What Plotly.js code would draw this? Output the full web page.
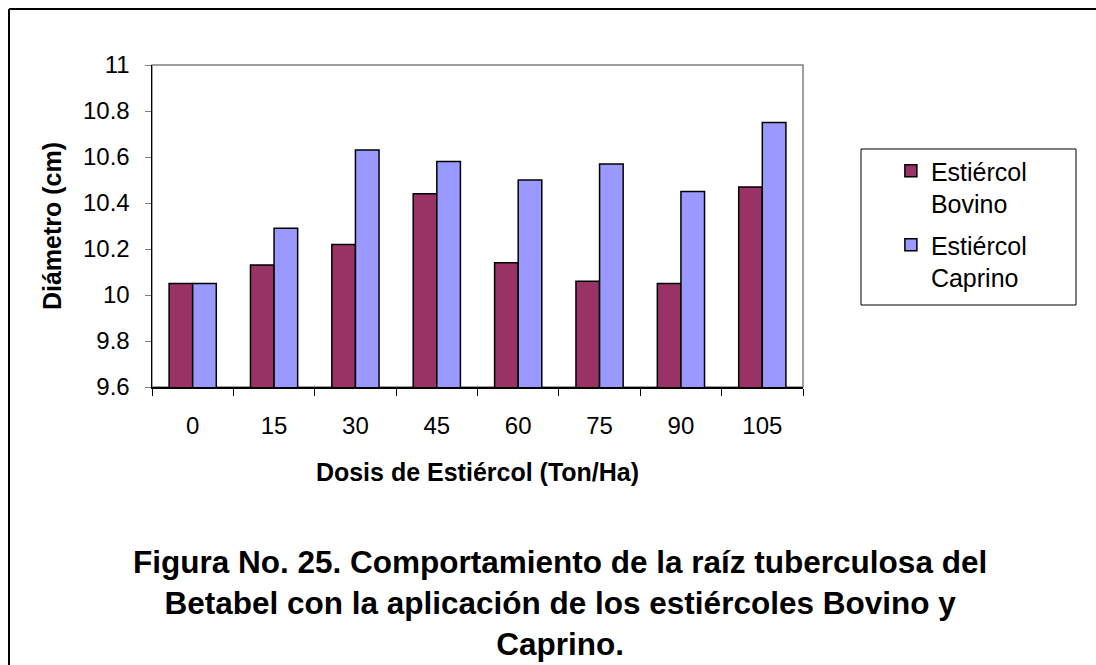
<!DOCTYPE html>
<html>
<head>
<meta charset="utf-8">
<script src="https://cdn.plot.ly/plotly-3.0.1.min.js"></script>
<style>
  html, body { margin: 0; padding: 0; background: #ffffff; }
  #chart { width: 1096px; height: 665px; }
</style>
</head>
<body>
<div id="chart"></div>
<script>
// Data
const categories = ["0", "15", "30", "45", "60", "75", "90", "105"];
const bovino = [10.05, 10.13, 10.22, 10.44, 10.14, 10.06, 10.05, 10.47];
const caprino = [10.05, 10.29, 10.63, 10.58, 10.50, 10.57, 10.45, 10.75];
const seriesNames = ["Estiércol<br>Bovino", "Estiércol<br>Caprino"];
const xTitle = "Dosis de Estiércol (Ton/Ha)";
const yTitle = "Diámetro (cm)";
const caption = "Figura No. 25. Comportamiento de la raíz tuberculosa del<br>Betabel con la aplicación de los estiércoles Bovino y<br>Caprino.";

const FONT = "Liberation Sans, Arial, Helvetica, sans-serif";

const traces = [
  {
    type: "bar", x: categories, y: bovino, name: seriesNames[0],
    legendgroup: "g1",
    marker: { color: "#993366", line: { color: "#000000", width: 1.5 } }
  },
  {
    type: "bar", x: categories, y: caprino, name: seriesNames[1],
    legendgroup: "g2",
    marker: { color: "#9999FF", line: { color: "#000000", width: 1.5 } }
  }
];

const layout = {
  width: 1096, height: 665,
  margin: { l: 152, r: 293, t: 65, b: 278, pad: 0 },
  paper_bgcolor: "#ffffff", plot_bgcolor: "#ffffff",
  font: { family: FONT, color: "#000000", size: 24 },
  barmode: "group", bargap: 0.42, bargroupgap: 0,
  xaxis: {
    type: "category",
    tickson: "boundaries",
    ticks: "outside", ticklen: 7, tickcolor: "#000000", tickwidth: 1,
    ticklabelstandoff: 17,
    showline: true, linecolor: "#000000", linewidth: 1.5,
    showgrid: false, zeroline: false,
    tickfont: { size: 24, family: FONT },
    title: { text: "<b>" + xTitle + "</b>", font: { size: 25, family: FONT }, standoff: 25 }
  },
  yaxis: {
    range: [9.6, 11], dtick: 0.2, tick0: 9.6,
    ticks: "outside", ticklen: 6, tickcolor: "#808080", tickwidth: 1,
    ticklabelstandoff: 10,
    showline: true, linecolor: "#000000", linewidth: 1.5,
    showgrid: false, zeroline: false,
    tickfont: { size: 24, family: FONT },
    title: { text: "<b>" + yTitle + "</b>", font: { size: 25, family: FONT }, standoff: 14 }
  },
  legend: {
    x: 1.135, xanchor: "left", y: 0.742, yanchor: "top",
    bgcolor: "rgba(0,0,0,0)", borderwidth: 0,
    font: { size: 25, family: FONT },
    valign: "top",
    traceorder: "grouped", tracegroupgap: 6
  },
  showlegend: true,
  shapes: [
    // plot area frame (gray top/right)
    { type: "rect", xref: "paper", yref: "paper", x0: 0, x1: 1, y0: 0, y1: 1,
      line: { color: "#808080", width: 1.5 }, layer: "below" },
    // legend box
    { type: "rect", xref: "paper", yref: "paper",
      x0: (861 - 152) / 651, x1: (1076 - 152) / 651,
      y0: (387 - 305) / 322, y1: (387 - 149) / 322,
      line: { color: "#000000", width: 1 }, layer: "below" },
    // outer frame lines (left and top)
    { type: "line", xref: "paper", yref: "paper",
      x0: (9 - 152) / 651, x1: (9 - 152) / 651, y0: (387 - 9) / 322, y1: -1.0,
      line: { color: "#000000", width: 2 } },
    { type: "line", xref: "paper", yref: "paper",
      x0: (9 - 152) / 651, x1: 1.6, y0: (387 - 9) / 322, y1: (387 - 9) / 322,
      line: { color: "#000000", width: 2 } }
  ],
  annotations: [
    { text: "<b>" + caption + "</b>", xref: "paper", yref: "paper",
      x: (560 - 152) / 651, y: (387 - 603) / 322, xanchor: "center", yanchor: "middle",
      showarrow: false, align: "center",
      font: { size: 31.5, family: FONT, color: "#000000" } }
  ]
};

Plotly.newPlot("chart", traces, layout, { displayModeBar: false, staticPlot: true });
</script>
</body>
</html>
